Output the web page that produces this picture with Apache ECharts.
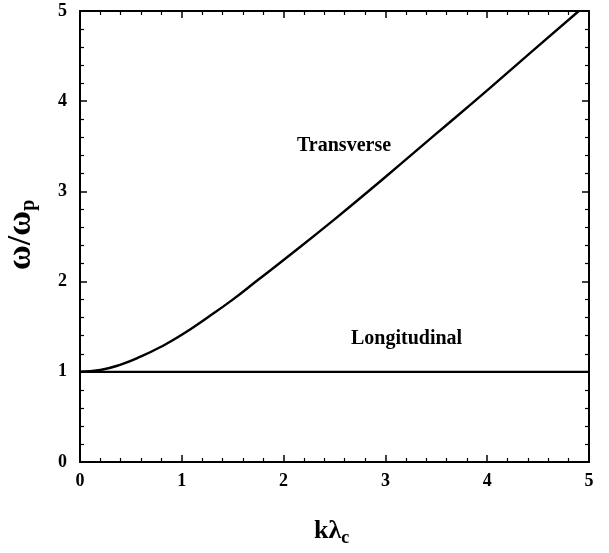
<!DOCTYPE html>
<html>
<head>
<meta charset="utf-8">
<script src="https://cdn.jsdelivr.net/npm/echarts@6/dist/echarts.min.js"></script>
<style>
html, body { margin: 0; padding: 0; background: #fff; }
#root { width: 609px; height: 553px; }
</style>
</head>
<body>
<div id="root"></div>
<script>
// values
var kValues = [0, 0.2, 0.4, 0.6, 0.8, 1.0, 1.25, 1.5, 1.75, 2.0, 2.5, 3.0, 3.5, 4.0, 4.5, 4.9];
var transverse = [1.0, 1.02, 1.08, 1.17, 1.28, 1.41, 1.6, 1.8, 2.02, 2.24, 2.69, 3.16, 3.64, 4.12, 4.61, 5.0];
var longK = [0, 5];
var longitudinal = [1, 1];
var tickLabels = ['0', '1', '2', '3', '4', '5'];

var font = '"Liberation Serif", "Times New Roman", serif';

function pairs(xs, ys) {
    return xs.map(function (x, i) { return [x, ys[i]]; });
}

var myChart = echarts.init(document.getElementById('root'));

function axisBase(show) {
    return {
        type: 'value', min: 0, max: 5, interval: 1,
        axisLine: { show: true, onZero: false, lineStyle: { color: '#000', width: 2 } },
        axisTick: { show: true, inside: true, length: 7, lineStyle: { color: '#000', width: 1.5 } },
        minorTick: { show: true, splitNumber: 5, length: 4, lineStyle: { color: '#000', width: 1.2 } },
        splitLine: { show: false },
        axisLabel: {
            show: show, color: '#000', fontFamily: font, fontWeight: 'bold', fontSize: 18,
            formatter: function (v) { return tickLabels[Math.round(v)]; }
        }
    };
}

var xb = axisBase(true); xb.position = 'bottom'; xb.axisLabel.margin = 10;
var xt = axisBase(false); xt.position = 'top';
var yl = axisBase(true); yl.position = 'left'; yl.axisLabel.margin = 13;
var yr = axisBase(false); yr.position = 'right';

myChart.setOption({
    animation: false,
    grid: { left: 80, right: 20, top: 11, bottom: 91 },
    xAxis: [xb, xt],
    yAxis: [yl, yr],
    graphic: [
        { type: 'text', left: 297, top: 136, style: { text: 'Transverse', font: 'bold 20px ' + font, fill: '#000' } },
        { type: 'text', left: 351, top: 329, style: { text: 'Longitudinal', font: 'bold 20px ' + font, fill: '#000' } },
        {
            type: 'text', x: 3, y: 270, rotation: Math.PI / 2,
            style: {
                text: '{a|ω/ω}{s|p}', fill: '#000',
                rich: {
                    a: { fontFamily: font, fontWeight: 'bold', fontSize: 34, fill: '#000' },
                    s: { fontFamily: font, fontWeight: 'bold', fontSize: 20, fill: '#000', padding: [16, 0, 0, 0] }
                }
            }
        },
        {
            type: 'text', left: 314, top: 518,
            style: {
                text: '{a|kλ}{s|c}', fill: '#000',
                rich: {
                    a: { fontFamily: font, fontWeight: 'bold', fontSize: 26, fill: '#000' },
                    s: { fontFamily: font, fontWeight: 'bold', fontSize: 18, fill: '#000', padding: [14, 0, 0, 0] }
                }
            }
        }
    ],
    series: [
        {
            name: 'Transverse', type: 'line', xAxisIndex: 0, yAxisIndex: 0,
            data: pairs(kValues, transverse), smooth: true, symbol: 'none',
            lineStyle: { color: '#000', width: 2.4 }
        },
        {
            name: 'Longitudinal', type: 'line', xAxisIndex: 0, yAxisIndex: 0,
            data: pairs(longK, longitudinal), symbol: 'none',
            lineStyle: { color: '#000', width: 2.2 }
        }
    ]
});
</script>
</body>
</html>
